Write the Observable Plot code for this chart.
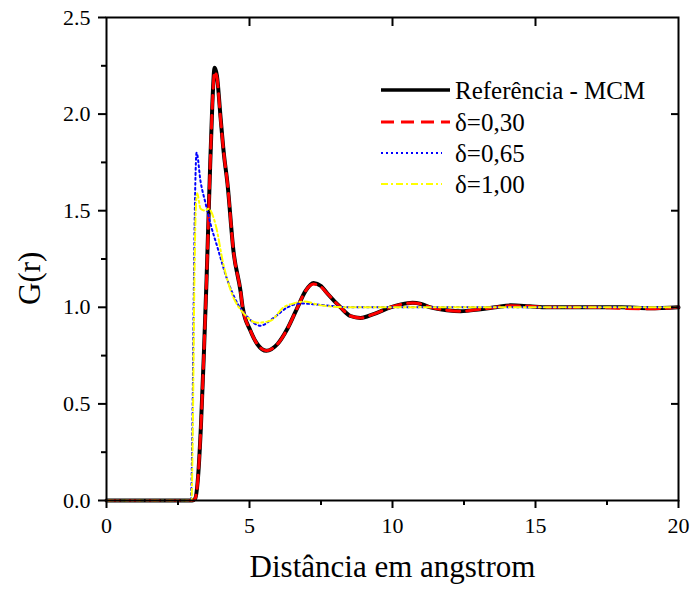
<!DOCTYPE html>
<html>
<head>
<meta charset="utf-8">
<script src="https://cdn.jsdelivr.net/npm/d3@7"></script>
<script src="https://cdn.jsdelivr.net/npm/@observablehq/plot@0.6"></script>
<style>
  body { margin: 0; background: #fff; }
  #wrap { position: relative; width: 692px; height: 593px; }
  #wrap svg { font-family: 'Liberation Serif', 'Times New Roman', serif; }
  #overlay { position: absolute; left: 0; top: 0; }
</style>
</head>
<body>
<div id="wrap"></div>
<script>
// Referência - MCM
const refX = [0, 1, 2, 3.0, 3.1, 3.2, 3.3, 3.4, 3.5, 3.6, 3.7, 3.78, 3.86, 3.99, 4.1, 4.23, 4.44, 4.69, 4.76, 5.03, 5.27, 5.59, 5.98, 6.33, 6.68, 6.96, 7.24, 7.5, 7.73, 8.18, 8.53, 8.88, 9.34, 9.93, 10.3, 10.7, 11.0, 11.33, 11.9, 12.38, 13.08, 13.6, 14.13, 14.8, 15.4, 16, 17, 18, 19, 20];
const refY = [0, 0, 0, 0, 0.01, 0.12, 0.38, 0.74, 1.15, 1.62, 2.05, 2.24, 2.2, 1.98, 1.8, 1.64, 1.29, 1.08, 1.0, 0.88, 0.81, 0.775, 0.81, 0.89, 1.0, 1.085, 1.126, 1.11, 1.07, 1.0, 0.955, 0.945, 0.965, 1.0, 1.015, 1.023, 1.017, 1.0, 0.985, 0.98, 0.99, 1.0, 1.01, 1.005, 1.0, 1.0, 1.0, 1.0, 0.995, 1.0];
// δ=0,30
const d030X = [0, 1, 2, 3.0, 3.1, 3.2, 3.3, 3.4, 3.5, 3.6, 3.7, 3.78, 3.86, 3.99, 4.1, 4.23, 4.44, 4.69, 4.76, 5.03, 5.27, 5.59, 5.98, 6.33, 6.68, 6.96, 7.24, 7.5, 7.73, 8.18, 8.53, 8.88, 9.34, 9.93, 10.3, 10.7, 11.0, 11.33, 11.9, 12.38, 13.08, 13.6, 14.13, 14.8, 15.4, 16, 17, 18, 19, 20];
const d030Y = [0, 0, 0, 0, 0.01, 0.12, 0.38, 0.74, 1.15, 1.62, 2.04, 2.22, 2.19, 1.97, 1.8, 1.64, 1.29, 1.08, 1.0, 0.88, 0.81, 0.775, 0.81, 0.89, 1.0, 1.085, 1.12, 1.105, 1.07, 1.0, 0.955, 0.945, 0.965, 1.0, 1.015, 1.022, 1.017, 1.0, 0.985, 0.98, 0.99, 1.0, 1.008, 1.005, 1.0, 1.0, 1.0, 0.995, 0.992, 1.0];
// δ=0,65
const d065X = [0, 1, 2, 2.95, 3.0, 3.05, 3.1, 3.15, 3.29, 3.46, 3.64, 3.88, 4.23, 4.58, 4.93, 5.38, 5.84, 6.33, 6.8, 7.3, 7.83, 8.5, 9.5, 10.5, 12, 14, 16, 18, 20];
const d065Y = [0, 0, 0, 0, 0.35, 1.05, 1.6, 1.8, 1.65, 1.54, 1.43, 1.31, 1.14, 1.02, 0.95, 0.905, 0.945, 1.0, 1.02, 1.015, 1.007, 1.0, 1.0, 1.0, 1.0, 1.0, 1.0, 1.0, 1.0];
// δ=1,00
const d100X = [0, 1, 2, 2.97, 3.02, 3.07, 3.12, 3.17, 3.29, 3.45, 3.57, 3.81, 4.09, 4.44, 4.79, 5.28, 5.73, 6.19, 6.54, 6.9, 7.5, 8.5, 10, 12, 14, 16, 18, 20];
const d100Y = [0, 0, 0, 0, 0.4, 1.1, 1.5, 1.59, 1.51, 1.5, 1.51, 1.43, 1.22, 1.05, 0.97, 0.92, 0.93, 1.0, 1.02, 1.03, 1.01, 1.0, 1.0, 1.0, 1.0, 1.0, 1.0, 1.0];

const seriesNames = ["Referência - MCM", "δ=0,30", "δ=0,65", "δ=1,00"];
const xMajor = [0, 5, 10, 15, 20];
const xMinor = [2.5, 7.5, 12.5, 17.5];
const yMajor = [0, 0.5, 1.0, 1.5, 2.0, 2.5];
const yMinor = [0.25, 0.75, 1.25, 1.75, 2.25];
const xTitle = "Distância em angstrom";
const yTitle = "G(r)";

const styles = [
  {stroke: "#000000", strokeWidth: 4, dash: null},
  {stroke: "#ff0000", strokeWidth: 3, dash: "13,7"},
  {stroke: "#0000ff", strokeWidth: 2, dash: "2,3"},
  {stroke: "#ffff00", strokeWidth: 2, dash: "7,3,2,3"}
];

const toRows = (xs, ys) => xs.map((x, i) => ({x, y: ys[i]}));
const data = [toRows(refX, refY), toRows(d030X, d030Y), toRows(d065X, d065Y), toRows(d100X, d100Y)];

const font = "'Liberation Serif', 'Times New Roman', serif";

const lines = data.map((rows, i) => Plot.line(rows, {
  x: "x", y: "y", curve: "monotone-x",
  stroke: styles[i].stroke, strokeWidth: styles[i].strokeWidth,
  strokeDasharray: styles[i].dash, strokeLinejoin: "round"
}));

const tk = {label: null, strokeWidth: 2};
const blank = () => "";

const chart = Plot.plot({
  width: 692, height: 593,
  marginLeft: 106, marginRight: 14, marginTop: 17, marginBottom: 93,
  x: {domain: [0, 20]},
  y: {domain: [0, 2.5]},
  marks: [
    ...lines,
    Plot.frame({stroke: "#000", strokeWidth: 2}),
    Plot.axisY(yMajor, {...tk, tickSize: 8, tickPadding: 8, fontSize: 22, fontFamily: font, tickFormat: d3.format(".1f")}),
    Plot.axisY(yMinor, {...tk, tickSize: 5, tickFormat: blank}),
    Plot.axisY(yMajor.slice(1, -1), {...tk, anchor: "right", tickSize: -8, tickFormat: blank}),
    Plot.axisX(xMajor, {...tk, tickSize: 8, tickPadding: 9, fontSize: 22, fontFamily: font, tickFormat: d3.format("d")}),
    Plot.axisX(xMinor, {...tk, tickSize: 5, tickFormat: blank}),
    Plot.axisX(xMajor.slice(1, -1), {...tk, anchor: "top", tickSize: -8, tickFormat: blank}),
    Plot.text([xTitle], {frameAnchor: "bottom", dy: 76, fontSize: 31, fontFamily: font, fill: "#000"}),
    Plot.text([yTitle], {frameAnchor: "left", dx: -76, dy: 46, rotate: -90, fontSize: 31, fontFamily: font, fill: "#000"})
  ]
});

const wrap = document.getElementById("wrap");
wrap.appendChild(chart);

// Legend overlay
const ov = d3.select(wrap).append("svg")
  .attr("id", "overlay")
  .attr("width", 692).attr("height", 593)
  .style("font-family", font);
const rowY = [90, 122, 153, 184];
const lineEnd = [450, 450, 442, 442];
seriesNames.forEach((name, i) => {
  ov.append("line")
    .attr("x1", 381).attr("x2", lineEnd[i])
    .attr("y1", rowY[i]).attr("y2", rowY[i])
    .attr("stroke", styles[i].stroke)
    .attr("stroke-width", i === 0 ? 3.5 : styles[i].strokeWidth)
    .attr("stroke-dasharray", styles[i].dash);
  ov.append("text")
    .attr("x", 455).attr("y", rowY[i])
    .attr("dy", "0.35em")
    .attr("font-size", 25)
    .attr("fill", "#000")
    .text(name);
});
</script>
</body>
</html>
